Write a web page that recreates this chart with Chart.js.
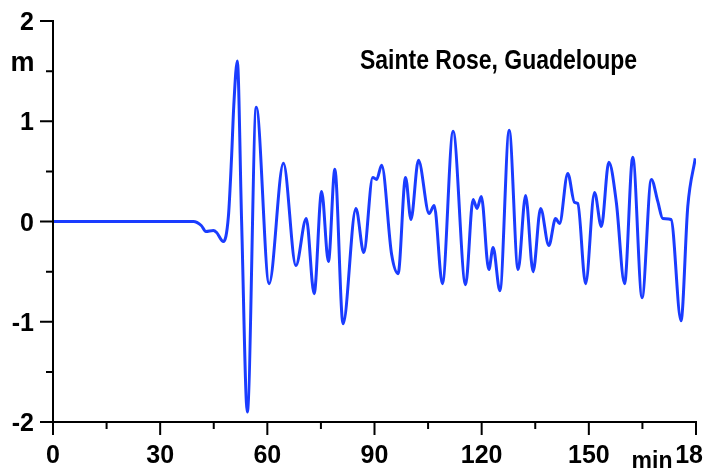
<!DOCTYPE html>
<html>
<head>
<meta charset="utf-8">
<title>Sainte Rose, Guadeloupe</title>
<script src="https://cdn.jsdelivr.net/npm/chart.js@4.4.1/dist/chart.umd.min.js"></script>
<style>
  html, body { margin: 0; padding: 0; background: #fff; }
  #myChart { display: block; }
</style>
</head>
<body>
<canvas id="myChart" width="704" height="471"></canvas>
<script>
// time (min) and sea level (m)
const times = [
    0, 39.3, 41.5, 42.8, 44.9, 45.8, 47.7, 49.1, 50.0, 50.6, 51.6,
    52.8, 54.4, 56.9, 60.5, 64.5, 68.0, 70.9, 73.1, 75.2, 77.1,
    78.9, 81.2, 84.8, 87.0, 89.5, 90.6, 92.0, 94.8, 96.6, 98.7,
    100.2, 102.3, 105.3, 106.7, 109.0, 112.0, 115.5, 117.6, 118.7, 119.9,
    122.0, 123.2, 125.1, 127.7, 130.2, 132.3, 134.4, 136.5, 138.8, 140.7,
    141.8, 144.1, 146.0, 146.9, 149.1, 151.6, 153.5, 155.6, 157.7, 160.0,
    162.3, 164.9, 167.5, 169.3, 170.7, 173.0, 175.8, 177.7, 179.8
];
const heights = [
    0, 0, -0.04, -0.10, -0.09, -0.11, -0.20, 0.05, 0.65, 1.15, 1.60,
    0.00, -1.90, 1.14, -0.62, 0.58, -0.44, 0.03, -0.72, 0.30, -0.40,
    0.52, -1.02, 0.13, -0.31, 0.44, 0.42, 0.56, -0.33, -0.52, 0.44,
    0.02, 0.61, 0.08, 0.16, -0.62, 0.90, -0.63, 0.22, 0.13, 0.25,
    -0.48, -0.26, -0.69, 0.91, -0.48, 0.26, -0.50, 0.13, -0.24, 0.03,
    -0.02, 0.48, 0.19, 0.18, -0.62, 0.29, -0.05, 0.59, 0.19, -0.62,
    0.64, -0.76, 0.42, 0.20, 0.03, 0.02, -0.99, 0.15, 0.63
];

const xMajorTicks = [0, 30, 60, 90, 120, 150, 180];
const xMinorTicks = [15, 45, 75, 105, 135, 165];
const yMajorTicks = [2, 1, 0, -1, -2];
const yMinorTicks = [1.5, 0.5, -0.5, -1.5];
const titleText = 'Sainte Rose, Guadeloupe';
const xUnit = 'min';
const yUnit = 'm';

const FONT = "'Liberation Sans', Arial, sans-serif";

// write text squeezed sideways to a given width when needed
function drawText(ctx, text, x, y, size, align, width) {
    ctx.save();
    ctx.font = 'bold ' + size + 'px ' + FONT;
    ctx.textBaseline = 'alphabetic';
    const w = ctx.measureText(text).width;
    const sx = width ? width / w : 1;
    let left = x;
    if (align === 'center') left = x - w * sx / 2;
    if (align === 'right') left = x - w * sx;
    ctx.translate(left, y);
    ctx.scale(sx, 1);
    ctx.fillStyle = '#000';
    ctx.textAlign = 'left';
    ctx.fillText(text, 0, 0);
    ctx.restore();
}

const axesPlugin = {
    id: 'axesPlugin',
    afterDraw(chart) {
        const ctx = chart.ctx;
        const xs = chart.scales.x;
        const ys = chart.scales.y;
        const left = xs.getPixelForValue(0);
        const right = xs.getPixelForValue(180);
        const top = ys.getPixelForValue(2);
        const bottom = ys.getPixelForValue(-2);

        ctx.save();
        ctx.strokeStyle = '#000';
        ctx.lineWidth = 2;
        ctx.lineCap = 'butt';
        ctx.beginPath();
        ctx.moveTo(left, top - 1);
        ctx.lineTo(left, bottom + 1);
        ctx.moveTo(left - 1, bottom);
        ctx.lineTo(right + 1, bottom);

        yMajorTicks.forEach(function(v) {
            const y = ys.getPixelForValue(v);
            ctx.moveTo(left, y);
            ctx.lineTo(left - 13, y);
        });
        yMinorTicks.forEach(function(v) {
            const y = ys.getPixelForValue(v);
            ctx.moveTo(left, y);
            ctx.lineTo(left - 7, y);
        });
        xMajorTicks.forEach(function(v) {
            const x = xs.getPixelForValue(v);
            ctx.moveTo(x, bottom);
            ctx.lineTo(x, bottom + 13);
        });
        xMinorTicks.forEach(function(v) {
            const x = xs.getPixelForValue(v);
            ctx.moveTo(x, bottom);
            ctx.lineTo(x, bottom + 7);
        });
        ctx.stroke();
        ctx.restore();

        yMajorTicks.forEach(function(v) {
            drawText(ctx, String(v), 34, ys.getPixelForValue(v) + 9, 25, 'right');
        });
        xMajorTicks.forEach(function(v) {
            drawText(ctx, String(v), xs.getPixelForValue(v), 463, 25, 'center');
        });

        drawText(ctx, yUnit, 22.5, 71, 27, 'center');
        drawText(ctx, xUnit, 652, 468, 23, 'center');
        drawText(ctx, titleText, 360, 69, 27, 'left', 277);
    }
};

const points = times.map(function(t, i) {
    return { x: t, y: heights[i] };
});

const config = {
    type: 'line',
    data: {
        datasets: [{
            label: 'Sea level',
            data: points,
            borderColor: '#1a3cff',
            borderWidth: 3,
            pointRadius: 0,
            fill: false,
            cubicInterpolationMode: 'monotone',
        }]
    },
    options: {
        responsive: false,
        animation: false,
        layout: {
            padding: { left: 53, right: 8, top: 21, bottom: 49 }
        },
        scales: {
            x: { type: 'linear', min: 0, max: 180, display: false },
            y: { type: 'linear', min: -2, max: 2, display: false }
        },
        plugins: {
            legend: { display: false },
            tooltip: { enabled: false }
        }
    },
    plugins: [axesPlugin]
};

const myChart = new Chart(document.getElementById('myChart'), config);
</script>
</body>
</html>
